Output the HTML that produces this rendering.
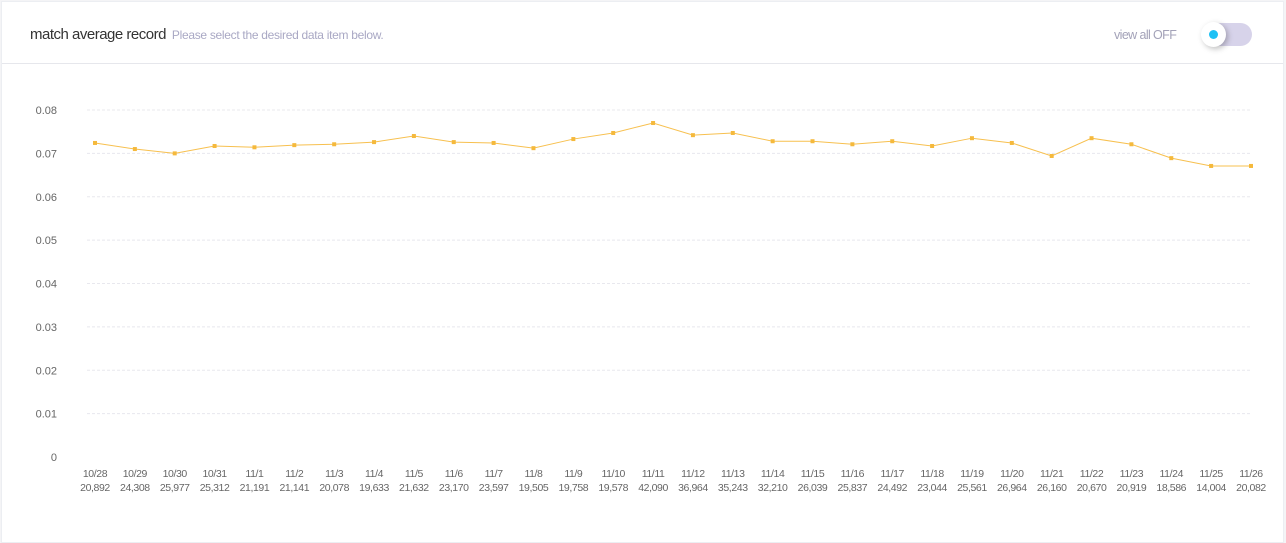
<!DOCTYPE html>
<html><head><meta charset="utf-8"><style>
body{margin:0;width:1286px;height:541px;background:#f4f4f6;font-family:"Liberation Sans",sans-serif;overflow:hidden}
#card{position:absolute;left:1px;top:1px;width:1281px;height:540px;background:#fff;border:1px solid #eceef2}
#hdr{position:absolute;left:0;top:0;width:1281px;height:61px;border-bottom:1px solid #e6e7ec}
#title{position:absolute;left:28px;top:24px;font-size:15px;color:#333;letter-spacing:-0.5px}
#sub{font-size:12px;color:#a9a8c4;margin-left:6px;letter-spacing:-0.3px}
#va{position:absolute;left:1112px;top:26px;font-size:12.5px;color:#a3a2b8;letter-spacing:-0.6px}
#tg{position:absolute;left:1200px;top:21px;width:50px;height:23px;border-radius:12px;background:#d7d3ea}
#knob{position:absolute;left:-1px;top:-1px;width:25px;height:25px;border-radius:50%;background:#fff;box-shadow:2px 2px 6px rgba(0,0,0,.25)}
#dot{position:absolute;left:8px;top:8px;width:9px;height:9px;border-radius:50%;background:#1ec1f5}
svg{position:absolute;left:0;top:0}
</style></head><body>
<div id="card">
<div id="hdr">
<div id="title">match average record<span id="sub">Please select the desired data item below.</span></div>
<div id="va">view all OFF</div>
<div id="tg"><div id="knob"><div id="dot"></div></div></div>
</div>
</div>
<svg id="chart" width="1286" height="541"></svg>
<script>
const categories=["10/28","10/29","10/30","10/31","11/1","11/2","11/3","11/4","11/5","11/6","11/7","11/8","11/9","11/10","11/11","11/12","11/13","11/14","11/15","11/16","11/17","11/18","11/19","11/20","11/21","11/22","11/23","11/24","11/25","11/26"];
const counts=["20,892","24,308","25,977","25,312","21,191","21,141","20,078","19,633","21,632","23,170","23,597","19,505","19,758","19,578","42,090","36,964","35,243","32,210","26,039","25,837","24,492","23,044","25,561","26,964","26,160","20,670","20,919","18,586","14,004","20,082"];
const values=[0.0724,0.0710,0.0700,0.0717,0.0714,0.0719,0.0721,0.0726,0.0740,0.0726,0.0724,0.0712,0.0733,0.0747,0.0770,0.0742,0.0747,0.0728,0.0728,0.0721,0.0728,0.0717,0.0735,0.0724,0.0694,0.0735,0.0721,0.0689,0.0671,0.0671];
const yTicks=[0,0.01,0.02,0.03,0.04,0.05,0.06,0.07,0.08];
const yTickLabels=["0","0.01","0.02","0.03","0.04","0.05","0.06","0.07","0.08"];
const svg=document.getElementById('chart');const NS='http://www.w3.org/2000/svg';
const y=v=>457-v/0.08*347;
const x=i=>95+i*(1251-95)/(categories.length-1);
function mk(t,a){const e=document.createElementNS(NS,t);for(const k in a)e.setAttribute(k,a[k]);svg.appendChild(e);return e;}
yTicks.forEach((t,i)=>{
 if(t>0){const g=mk('line',{x1:87,x2:1250,y1:y(t),y2:y(t),stroke:'#e8e8ee','stroke-dasharray':'3,2'});
 
 }
 const l=mk('text',{x:57,y:y(t)+4,'text-anchor':'end','font-size':11,fill:'#666'});l.textContent=yTickLabels[i];
 
 
});
categories.forEach((c,i)=>{
 const a=mk('text',{x:x(i),y:477,'text-anchor':'middle','font-size':10.5,fill:'#666','letter-spacing':'-0.4'});a.textContent=c;
 
 
 const b=mk('text',{x:x(i),y:491,'text-anchor':'middle','font-size':10.5,fill:'#666','letter-spacing':'-0.4'});b.textContent=counts[i];
 
 
});
const p=mk('polyline',{points:values.map((v,i)=>x(i)+','+y(v)).join(' '),fill:'none',stroke:'#f7c04f','stroke-width':1});


values.forEach((v,i)=>{const r=mk('rect',{x:x(i)-2,y:y(v)-2,width:4,height:4,fill:'#f5b93c'});
 
 });
</script>
</body></html>
